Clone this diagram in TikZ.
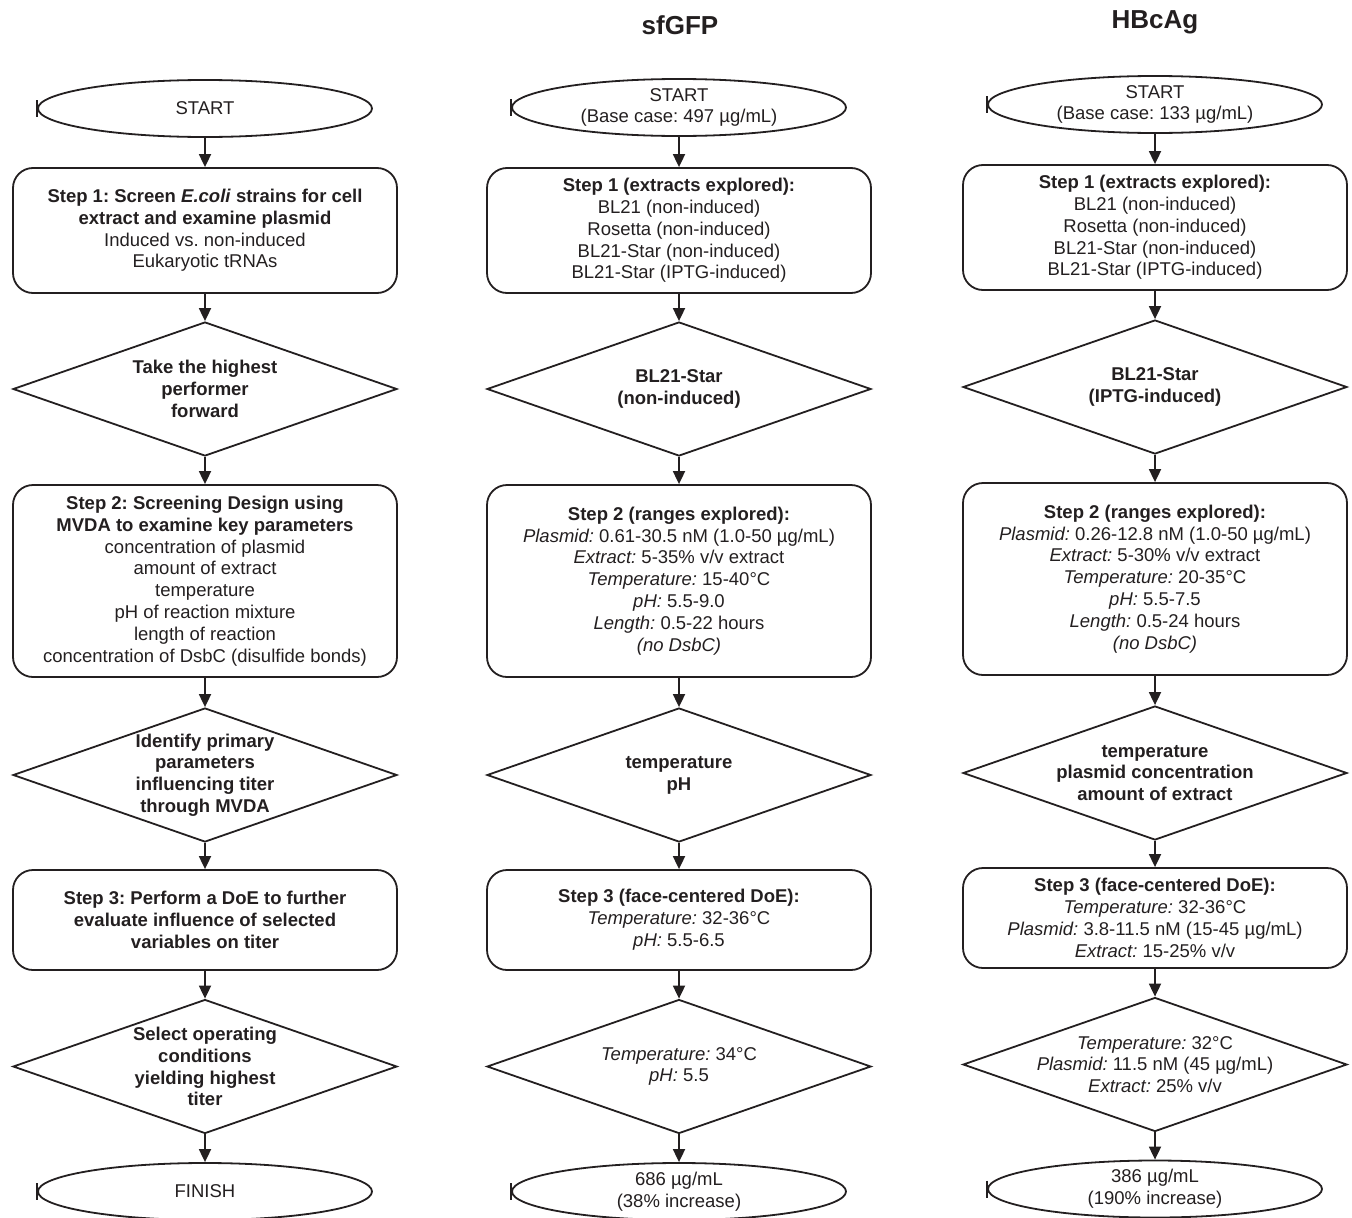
\documentclass[tikz,border=0pt]{standalone}
\usepackage{fontspec}
\setmainfont{Liberation Sans}
\usetikzlibrary{shapes.geometric,arrows.meta}
\definecolor{ink}{RGB}{35,31,32}
\frenchspacing
\tikzset{
  base/.style={draw=ink, line width=1.8pt, text=ink, align=center,
    font=\frenchspacing\fontsize{18.5}{21.8}\selectfont, inner sep=0pt},
  stepbox/.style={base, rectangle, rounded corners=20pt, minimum width=384pt},
  dia/.style={base, diamond, minimum width=384pt, minimum height=134pt},
  term/.style={base, ellipse, minimum width=334pt, minimum height=57pt},
  txt/.style={text=ink, align=center, font=\frenchspacing\fontsize{18.5}{21.8}\selectfont, inner sep=0pt},
  arr/.style={draw=ink, line width=1.8pt, -{Triangle[width=12pt,length=13pt]}},
  tickmark/.style={draw=ink, line width=1.5pt},
  title/.style={text=ink, font=\bfseries\fontsize{26}{30}\selectfont, inner sep=0pt}
}
\begin{document}
\begin{tikzpicture}[x=1pt,y=-1pt]
\useasboundingbox (0,0) rectangle (1352,1218);

% titles
\node[title] (t2) at (680,25) {sfGFP};
\node[title] (t3) at (1155,22) {HBcAg};

% ---------------- column 1 ----------------
\node[term, label={[txt]center:{START}}] (a1) at (205,108.5) {};
\node[stepbox, minimum height=125pt] (a2) at (205,230.5)
  {\textbf{Step 1: Screen \textit{E.coli} strains for cell}\\
   \textbf{extract and examine plasmid}\\
   Induced vs. non-induced\\
   Eukaryotic tRNAs};
\node[dia, label={[txt]center:{\textbf{Take the highest}\\\textbf{performer}\\\textbf{forward}}}] (a3) at (205,389) {};
\node[stepbox, minimum height=192pt] (a4) at (205,581)
  {\textbf{Step 2: Screening Design using}\\
   \textbf{MVDA to examine key parameters}\\
   concentration of plasmid\\
   amount of extract\\
   temperature\\
   pH of reaction mixture\\
   length of reaction\\
   concentration of DsbC (disulfide bonds)};
\node[dia, label={[txt]center:{\textbf{Identify primary}\\\textbf{parameters}\\\textbf{influencing titer}\\\textbf{through MVDA}}}] (a5) at (205,775) {};
\node[stepbox, minimum height=100pt] (a6) at (205,920)
  {\textbf{Step 3: Perform a DoE to further}\\
   \textbf{evaluate influence of selected}\\
   \textbf{variables on titer}};
\node[dia, label={[txt]center:{\textbf{Select operating}\\\textbf{conditions}\\\textbf{yielding highest}\\\textbf{titer}}}] (a7) at (205,1066.5) {};
\node[term, label={[txt]center:{FINISH}}] (a8) at (205,1191.5) {};

% ---------------- column 2 ----------------
\node[term, label={[txt]center:{START\\(Base case: 497 µg/mL)}}] (b1) at (679,107.5) {};
\node[stepbox, minimum height=125pt] (b2) at (679,230.5)
  {\textbf{Step 1 (extracts explored):}\\
   BL21 (non-induced)\\
   Rosetta (non-induced)\\
   BL21-Star (non-induced)\\
   BL21-Star (IPTG-induced)};
\node[dia, label={[txt]center:{\textbf{BL21-Star}\\\textbf{(non-induced)}}}] (b3) at (679,389) {};
\node[stepbox, minimum height=192pt] (b4) at (679,581)
  {\textbf{Step 2 (ranges explored):}\\
   \textit{Plasmid:} 0.61-30.5 nM (1.0-50 µg/mL)\\
   \textit{Extract:} 5-35\% v/v extract\\
   \textit{Temperature:} 15-40°C\\
   \textit{pH:} 5.5-9.0\\
   \textit{Length:} 0.5-22 hours\\
   \textit{(no DsbC)}};
\node[dia, label={[txt]center:{\textbf{temperature}\\\textbf{pH}}}] (b5) at (679,775) {};
\node[stepbox, minimum height=100pt] (b6) at (679,920)
  {\textbf{Step 3 (face-centered DoE):}\\
   \textit{Temperature:} 32-36°C\\
   \textit{pH:} 5.5-6.5};
\node[dia, label={[txt]center:{\textit{Temperature:} 34°C\\\textit{pH:} 5.5}}] (b7) at (679,1066.5) {};
\node[term, label={[txt]center:{686 µg/mL\\(38\% increase)}}] (b8) at (679,1191.5) {};

% ---------------- column 3 ----------------
\node[term, label={[txt]center:{START\\(Base case: 133 µg/mL)}}] (c1) at (1155,104.5) {};
\node[stepbox, minimum height=125pt] (c2) at (1155,227.5)
  {\textbf{Step 1 (extracts explored):}\\
   BL21 (non-induced)\\
   Rosetta (non-induced)\\
   BL21-Star (non-induced)\\
   BL21-Star (IPTG-induced)};
\node[dia, label={[txt]center:{\textbf{BL21-Star}\\\textbf{(IPTG-induced)}}}] (c3) at (1155,387) {};
\node[stepbox, minimum height=192pt] (c4) at (1155,579)
  {\textbf{Step 2 (ranges explored):}\\
   \textit{Plasmid:} 0.26-12.8 nM (1.0-50 µg/mL)\\
   \textit{Extract:} 5-30\% v/v extract\\
   \textit{Temperature:} 20-35°C\\
   \textit{pH:} 5.5-7.5\\
   \textit{Length:} 0.5-24 hours\\
   \textit{(no DsbC)}};
\node[dia, label={[txt]center:{\textbf{temperature}\\\textbf{plasmid concentration}\\\textbf{amount of extract}}}] (c5) at (1155,773) {};
\node[stepbox, minimum height=100pt] (c6) at (1155,918)
  {\textbf{Step 3 (face-centered DoE):}\\
   \textit{Temperature:} 32-36°C\\
   \textit{Plasmid:} 3.8-11.5 nM (15-45 µg/mL)\\
   \textit{Extract:} 15-25\% v/v};
\node[dia, label={[txt]center:{\textit{Temperature:} 32°C\\\textit{Plasmid:} 11.5 nM (45 µg/mL)\\\textit{Extract:} 25\% v/v}}] (c7) at (1155,1064.5) {};
\node[term, label={[txt]center:{386 µg/mL\\(190\% increase)}}] (c8) at (1155,1189) {};

% connectors
\foreach \c in {a,b,c}{
  \draw[arr] (\c1) -- (\c2);
  \draw[arr] (\c2) -- (\c3);
  \draw[arr] (\c3) -- (\c4);
  \draw[arr] (\c4) -- (\c5);
  \draw[arr] (\c5) -- (\c6);
  \draw[arr] (\c6) -- (\c7);
  \draw[arr] (\c7) -- (\c8);
}

% small ticks at the left ends of the terminals
\foreach \e in {a1,a8,b1,b8,c1,c8}{
  \draw[tickmark] ([yshift=8.5pt]\e.west) -- ([yshift=-8.5pt]\e.west);
}
\end{tikzpicture}
\end{document}
